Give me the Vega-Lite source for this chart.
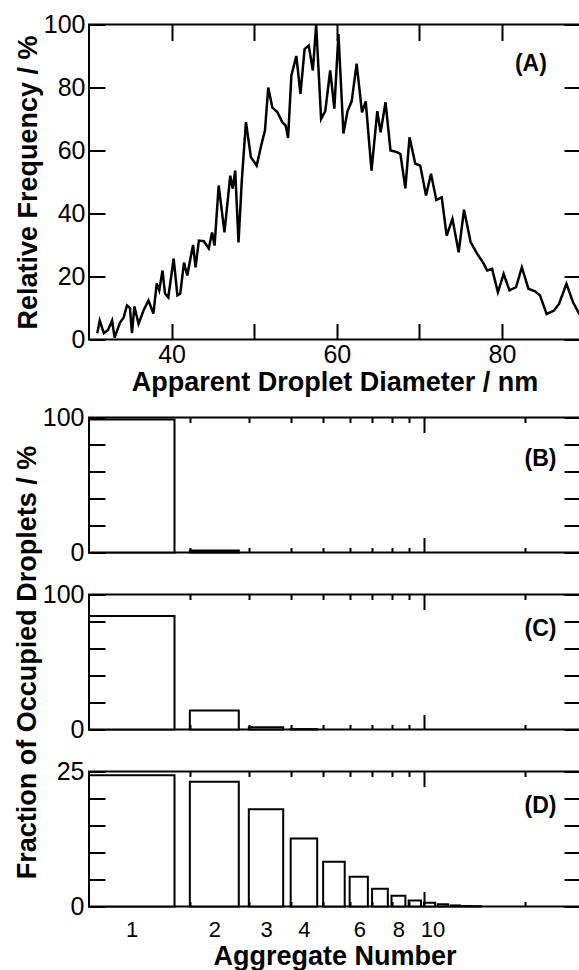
{
  "$schema": "https://vega.github.io/schema/vega-lite/v6.json",
  "background": "white",
  "padding": {"top": 11.5, "left": 12, "right": 0, "bottom": 0},
  "config": {
    "view": {"stroke": null},
    "font": "Liberation Sans",
    "axis": {
      "labelFont": "Liberation Sans",
      "titleFont": "Liberation Sans",
      "labelColor": "black",
      "titleColor": "black",
      "labelFontSize": 25,
      "titleFontSize": 27,
      "titleFontWeight": "bold",
      "ticks": false,
      "domain": false,
      "gridColor": "black",
      "gridWidth": 2,
      "gridOpacity": 1,
      "labelFlush": false,
      "labelOverlap": false
    }
  },
  "datasets": {
    "freq": [
      {"diameter": 31.0, "freq": 2}, {"diameter": 31.3, "freq": 6}, {"diameter": 31.8, "freq": 2},
      {"diameter": 32.3, "freq": 3}, {"diameter": 32.8, "freq": 6}, {"diameter": 33.1, "freq": 0.6},
      {"diameter": 33.75, "freq": 5.4}, {"diameter": 34.2, "freq": 7}, {"diameter": 34.6, "freq": 10.8},
      {"diameter": 34.96, "freq": 10}, {"diameter": 35.2, "freq": 2}, {"diameter": 35.5, "freq": 10.5},
      {"diameter": 36.0, "freq": 5}, {"diameter": 36.6, "freq": 9.2}, {"diameter": 37.2, "freq": 12.4},
      {"diameter": 37.8, "freq": 8.2}, {"diameter": 38.2, "freq": 17.8}, {"diameter": 38.5, "freq": 15.6},
      {"diameter": 38.9, "freq": 21.9}, {"diameter": 39.2, "freq": 14.6}, {"diameter": 39.6, "freq": 13.4},
      {"diameter": 40.25, "freq": 25.7}, {"diameter": 40.7, "freq": 14}, {"diameter": 41.05, "freq": 14.6},
      {"diameter": 41.5, "freq": 24.4}, {"diameter": 41.9, "freq": 20.3}, {"diameter": 42.3, "freq": 26},
      {"diameter": 42.6, "freq": 30}, {"diameter": 42.9, "freq": 22.9}, {"diameter": 43.3, "freq": 31.4},
      {"diameter": 43.9, "freq": 31.2}, {"diameter": 44.5, "freq": 28.9}, {"diameter": 44.9, "freq": 34},
      {"diameter": 45.2, "freq": 29.8}, {"diameter": 45.7, "freq": 48.9}, {"diameter": 46.4, "freq": 34},
      {"diameter": 47.1, "freq": 52}, {"diameter": 47.4, "freq": 47.9}, {"diameter": 47.7, "freq": 53.6},
      {"diameter": 48.1, "freq": 30.8}, {"diameter": 48.5, "freq": 50.5}, {"diameter": 49.0, "freq": 69},
      {"diameter": 49.6, "freq": 57.9}, {"diameter": 50.3, "freq": 55.2}, {"diameter": 50.9, "freq": 62.2},
      {"diameter": 51.3, "freq": 66.3}, {"diameter": 51.7, "freq": 80}, {"diameter": 52.2, "freq": 73.6},
      {"diameter": 52.8, "freq": 72.2}, {"diameter": 53.4, "freq": 69}, {"diameter": 53.8, "freq": 68},
      {"diameter": 54.1, "freq": 64}, {"diameter": 54.5, "freq": 83.8}, {"diameter": 55.1, "freq": 90},
      {"diameter": 55.6, "freq": 78}, {"diameter": 56.1, "freq": 92.2}, {"diameter": 56.6, "freq": 93.3},
      {"diameter": 57.1, "freq": 85.4}, {"diameter": 57.5, "freq": 100}, {"diameter": 58.1, "freq": 70},
      {"diameter": 58.6, "freq": 72.5}, {"diameter": 59.2, "freq": 85.4}, {"diameter": 59.7, "freq": 73.3},
      {"diameter": 60.2, "freq": 97}, {"diameter": 60.8, "freq": 65.4}, {"diameter": 61.3, "freq": 72.5},
      {"diameter": 61.8, "freq": 75.6}, {"diameter": 62.4, "freq": 87.6}, {"diameter": 63.05, "freq": 72.1},
      {"diameter": 63.5, "freq": 75.6}, {"diameter": 64.2, "freq": 53.6}, {"diameter": 64.9, "freq": 72.5},
      {"diameter": 65.3, "freq": 65.8}, {"diameter": 65.9, "freq": 75.3}, {"diameter": 66.5, "freq": 60},
      {"diameter": 67.3, "freq": 59.5}, {"diameter": 67.7, "freq": 58.9}, {"diameter": 68.3, "freq": 48},
      {"diameter": 68.8, "freq": 64.2}, {"diameter": 69.5, "freq": 55.8}, {"diameter": 70.1, "freq": 55.2},
      {"diameter": 70.8, "freq": 45.7}, {"diameter": 71.4, "freq": 52.6}, {"diameter": 72.05, "freq": 44.3},
      {"diameter": 72.7, "freq": 45.1}, {"diameter": 73.3, "freq": 33}, {"diameter": 74.0, "freq": 38.3},
      {"diameter": 74.75, "freq": 27.7}, {"diameter": 75.4, "freq": 41.2}, {"diameter": 76.2, "freq": 30.9},
      {"diameter": 77.0, "freq": 27.2}, {"diameter": 77.8, "freq": 24}, {"diameter": 78.2, "freq": 21.9},
      {"diameter": 78.8, "freq": 22.4}, {"diameter": 79.5, "freq": 15}, {"diameter": 80.2, "freq": 20.8},
      {"diameter": 80.9, "freq": 15.6}, {"diameter": 81.7, "freq": 16.6}, {"diameter": 82.4, "freq": 22.9},
      {"diameter": 83.2, "freq": 16.1}, {"diameter": 84.0, "freq": 15.3}, {"diameter": 84.6, "freq": 14},
      {"diameter": 85.4, "freq": 8.1}, {"diameter": 86.3, "freq": 9.2}, {"diameter": 86.9, "freq": 11.3},
      {"diameter": 87.8, "freq": 17.7}, {"diameter": 88.6, "freq": 11.8}, {"diameter": 89.4, "freq": 7.9}
    ],
    "B": [
      {"aggregate": 1, "start": 1, "end": 1.8, "percent": 98.5},
      {"aggregate": 2, "start": 2, "end": 2.8, "percent": 1.5}
    ],
    "C": [
      {"aggregate": 1, "start": 1, "end": 1.8, "percent": 84},
      {"aggregate": 2, "start": 2, "end": 2.8, "percent": 14},
      {"aggregate": 3, "start": 3, "end": 3.8, "percent": 1.7},
      {"aggregate": 4, "start": 4, "end": 4.8, "percent": 0.3}
    ],
    "D": [
      {"aggregate": 1, "start": 1, "end": 1.8, "percent": 24.3},
      {"aggregate": 2, "start": 2, "end": 2.8, "percent": 23.1},
      {"aggregate": 3, "start": 3, "end": 3.8, "percent": 18.0},
      {"aggregate": 4, "start": 4, "end": 4.8, "percent": 12.6},
      {"aggregate": 5, "start": 5, "end": 5.8, "percent": 8.3},
      {"aggregate": 6, "start": 6, "end": 6.8, "percent": 5.5},
      {"aggregate": 7, "start": 7, "end": 7.8, "percent": 3.3},
      {"aggregate": 8, "start": 8, "end": 8.8, "percent": 2.0},
      {"aggregate": 9, "start": 9, "end": 9.8, "percent": 1.1},
      {"aggregate": 10, "start": 10, "end": 10.8, "percent": 0.7},
      {"aggregate": 11, "start": 11, "end": 11.8, "percent": 0.4},
      {"aggregate": 12, "start": 12, "end": 12.8, "percent": 0.2},
      {"aggregate": 13, "start": 13, "end": 13.8, "percent": 0.1},
      {"aggregate": 14, "start": 14, "end": 14.8, "percent": 0.05}
    ]
  },
  "bounds": "flush",
  "spacing": 78,
  "vconcat": [
    {
      "width": 491,
      "height": 315,
      "view": {"stroke": "black", "strokeWidth": 2, "strokeDash": [491, 315, 816]},
      "layer": [
        {
          "data": {"name": "freq"},
          "mark": {"type": "line", "color": "black", "strokeWidth": 2.5, "clip": true, "strokeMiterLimit": 4},
          "encoding": {
            "x": {
              "field": "diameter", "type": "quantitative",
              "scale": {"domain": [30, 89.44], "nice": false, "zero": false},
              "axis": {
                "values": [40, 50, 60, 70, 80],
                "tickCount": 20,
                "labelExpr": "datum.value % 20 == 0 ? datum.label : ''",
                "labelFontSize": {"condition": {"test": "datum.value % 20 == 0", "value": 25}, "value": 1},
                "labelOverlap": false,
                "labelPadding": 3,
                "grid": true,
                "gridDash": [16, 283, 16, 1000],
                "zindex": 1,
                "title": "Apparent Droplet Diameter / nm",
                "titlePadding": 2
              }
            },
            "y": {
              "field": "freq", "type": "quantitative",
              "scale": {"domain": [0, 100], "nice": false},
              "axis": {
                "values": [0, 20, 40, 60, 80, 100],
                "tickCount": 20,
                "labelOverlap": false,
                "labelPadding": 4,
                "grid": true,
                "gridDash": [16, 459, 16, 1000],
                "zindex": 1,
                "title": "Relative Frequency / %",
                "titlePadding": 1
              }
            }
          }
        },
        {
          "data": {"values": [{"panel": "(A)"}]},
          "mark": {"type": "text", "font": "Liberation Sans", "fontWeight": "bold", "fontSize": 23, "align": "center", "baseline": "middle", "color": "black"},
          "encoding": {
            "x": {"datum": 83.5},
            "y": {"datum": 87.5},
            "text": {"field": "panel"}
          }
        }
      ]
    },
    {
      "bounds": "flush",
      "spacing": 42,
      "vconcat": [
        {
          "width": 491,
          "height": 135,
          "view": {"stroke": "black", "strokeWidth": 2, "strokeDash": [491, 135, 636]},
          "layer": [
            {
              "data": {"name": "B"},
              "mark": {"type": "rect", "fill": "white", "stroke": "black", "strokeWidth": 2},
              "encoding": {
                "x": {
                  "field": "start", "type": "quantitative",
                  "scale": {"type": "log", "domain": [1, 29.23], "nice": false},
                  "axis": {
                    "values": [2, 3, 4, 5, 6, 7, 8, 9, 10, 20],
                    "tickCount": 20,
                    "labels": false,
                    "grid": true,
                    "gridDash": {"condition": {"test": "datum.value == 10", "value": [15, 105, 15, 1000]}, "value": [5, 125, 5, 1000]},
                    "zindex": 1,
                    "title": null
                  }
                },
                "x2": {"field": "end"},
                "y": {
                  "field": "percent", "type": "quantitative",
                  "scale": {"domain": [0, 100], "nice": false},
                  "axis": {
                    "values": [0, 20, 40, 60, 80, 100],
                    "tickCount": 20,
                    "labelExpr": "datum.value == 0 || datum.value == 100 ? datum.label : ''",
                    "labelFontSize": {"condition": {"test": "datum.value == 0 || datum.value == 100", "value": 25}, "value": 1},
                    "labelOverlap": false,
                    "labelPadding": 5,
                    "grid": true,
                    "gridDash": [16, 459, 16, 1000],
                    "zindex": 1,
                    "title": null
                  }
                },
                "y2": {"datum": 0}
              }
            },
            {
              "data": {"values": [{"panel": "(B)"}]},
              "mark": {"type": "text", "font": "Liberation Sans", "fontWeight": "bold", "fontSize": 23, "align": "center", "baseline": "middle", "color": "black"},
              "encoding": {
                "x": {"datum": 22.27},
                "y": {"datum": 68.9},
                "text": {"field": "panel"}
              }
            }
          ]
        },
        {
          "width": 491,
          "height": 135,
          "view": {"stroke": "black", "strokeWidth": 2, "strokeDash": [491, 135, 636]},
          "layer": [
            {
              "data": {"name": "C"},
              "mark": {"type": "rect", "fill": "white", "stroke": "black", "strokeWidth": 2},
              "encoding": {
                "x": {
                  "field": "start", "type": "quantitative",
                  "scale": {"type": "log", "domain": [1, 29.23], "nice": false},
                  "axis": {
                    "values": [2, 3, 4, 5, 6, 7, 8, 9, 10, 20],
                    "tickCount": 20,
                    "labels": false,
                    "grid": true,
                    "gridDash": {"condition": {"test": "datum.value == 10", "value": [15, 105, 15, 1000]}, "value": [5, 125, 5, 1000]},
                    "zindex": 1,
                    "title": null
                  }
                },
                "x2": {"field": "end"},
                "y": {
                  "field": "percent", "type": "quantitative",
                  "scale": {"domain": [0, 100], "nice": false},
                  "axis": {
                    "values": [0, 20, 40, 60, 80, 100],
                    "tickCount": 20,
                    "labelExpr": "datum.value == 0 || datum.value == 100 ? datum.label : ''",
                    "labelFontSize": {"condition": {"test": "datum.value == 0 || datum.value == 100", "value": 25}, "value": 1},
                    "labelOverlap": false,
                    "labelPadding": 5,
                    "grid": true,
                    "gridDash": [16, 459, 16, 1000],
                    "zindex": 1,
                    "title": "Fraction of Occupied Droplets / %",
                    "titlePadding": 1
                  }
                },
                "y2": {"datum": 0}
              }
            },
            {
              "data": {"values": [{"panel": "(C)"}]},
              "mark": {"type": "text", "font": "Liberation Sans", "fontWeight": "bold", "fontSize": 23, "align": "center", "baseline": "middle", "color": "black"},
              "encoding": {
                "x": {"datum": 22.27},
                "y": {"datum": 74.8},
                "text": {"field": "panel"}
              }
            }
          ]
        },
        {
          "width": 491,
          "height": 135,
          "view": {"stroke": "black", "strokeWidth": 2, "strokeDash": [491, 135, 636]},
          "resolve": {"scale": {"x": "independent"}, "axis": {"x": "independent"}},
          "layer": [
            {
              "data": {"name": "D"},
              "mark": {"type": "rect", "fill": "white", "stroke": "black", "strokeWidth": 2},
              "encoding": {
                "x": {
                  "field": "start", "type": "quantitative",
                  "scale": {"type": "log", "domain": [1, 29.23], "nice": false},
                  "axis": {
                    "orient": "bottom",
                    "values": [2, 3, 4, 5, 6, 7, 8, 9, 10, 20],
                    "tickCount": 20,
                    "labels": false,
                    "grid": true,
                    "gridDash": {"condition": {"test": "datum.value == 10", "value": [15, 105, 15, 1000]}, "value": [5, 125, 5, 1000]},
                    "zindex": 1,
                    "title": null
                  }
                },
                "x2": {"field": "end"},
                "y": {
                  "field": "percent", "type": "quantitative",
                  "scale": {"domain": [0, 25], "nice": false},
                  "axis": {
                    "values": [0, 5, 10, 15, 20, 25],
                    "tickCount": 20,
                    "labelExpr": "datum.value == 0 || datum.value == 25 ? datum.label : ''",
                    "labelFontSize": {"condition": {"test": "datum.value == 0 || datum.value == 25", "value": 25}, "value": 1},
                    "labelOverlap": false,
                    "labelPadding": 5,
                    "grid": true,
                    "gridDash": [16, 459, 16, 1000],
                    "zindex": 1,
                    "title": null
                  }
                },
                "y2": {"datum": 0}
              }
            },
            {
              "data": {"values": [{"panel": "(D)"}]},
              "mark": {"type": "text", "font": "Liberation Sans", "fontWeight": "bold", "fontSize": 23, "align": "center", "baseline": "middle", "color": "black"},
              "encoding": {
                "x": {
                  "datum": 22.27,
                  "scale": {"type": "log", "domain": [1, 29.23], "nice": false},
                  "axis": {
                    "orient": "bottom",
                    "values": [1.3416, 2.3664, 3.3764, 4.3818, 6.4187, 8.3905, 10.6],
                    "tickCount": 20,
                    "labelExpr": "format(floor(datum.value), 'd')",
                    "labelOverlap": false,
                    "labelFontSize": 22,
                    "labelPadding": 13,
                    "grid": false,
                    "zindex": 1,
                    "title": "Aggregate Number",
                    "titlePadding": 3
                  }
                },
                "y": {"datum": 18.7},
                "text": {"field": "panel"}
              }
            }
          ]
        }
      ]
    }
  ]
}
